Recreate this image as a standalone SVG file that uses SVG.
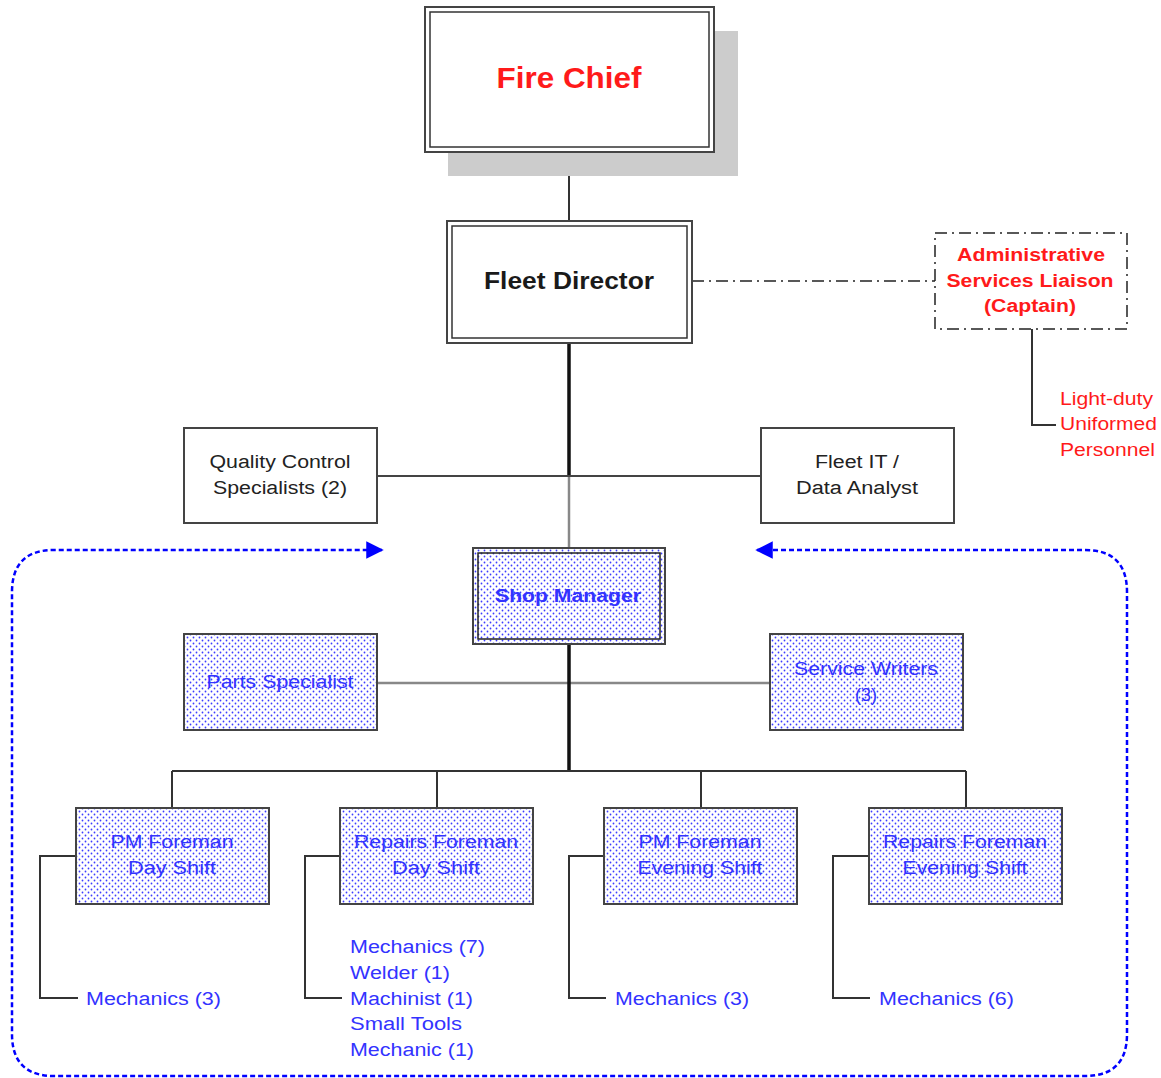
<svg xmlns="http://www.w3.org/2000/svg" width="1161" height="1078" viewBox="0 0 1161 1078">
<defs>
<pattern id="dots" width="6" height="6" patternUnits="userSpaceOnUse">
<rect width="6" height="6" fill="#ffffff"/>
<circle cx="1.5" cy="1.5" r="0.9" fill="#3c3cff"/>
<circle cx="4.5" cy="4.5" r="0.9" fill="#3c3cff"/>
</pattern>
<marker id="arr" viewBox="0 0 10 10" refX="9" refY="5" markerWidth="7" markerHeight="7" markerUnits="strokeWidth" orient="auto-start-reverse">
<path d="M0,0 L10,5 L0,10 z" fill="#0000ff"/>
</marker>
<style>
.t{font-family:"Liberation Sans",Arial,sans-serif;text-anchor:middle}
.tl{font-family:"Liberation Sans",Arial,sans-serif}
.box{fill:#ffffff;stroke:#444;stroke-width:2}
.pbox{fill:url(#dots);stroke:#444;stroke-width:2}
.dbl{fill:none;stroke:#333;stroke-width:1.5}
.blue{fill:#3333ff;font-size:18px}
.red{fill:#ff1a1a}
.blk{fill:#222;font-size:18px}
.ln{fill:none;stroke:#333;stroke-width:2}
</style>
</defs>

<g id="connectors">
<line x1="569" y1="152" x2="569" y2="221" class="ln"/>
<line x1="569" y1="343" x2="569" y2="476" stroke="#111" stroke-width="3.5"/>
<line x1="569" y1="476" x2="569" y2="548" stroke="#888" stroke-width="2.5"/>
<line x1="377" y1="476" x2="761" y2="476" stroke="#444" stroke-width="2"/>
<line x1="692" y1="281" x2="935" y2="281" stroke="#222" stroke-width="1.5" stroke-dasharray="12,5,2,5"/>
<polyline points="1032,329 1032,425 1056,425" class="ln"/>
<line x1="377" y1="683" x2="770" y2="683" stroke="#888" stroke-width="2.5"/>
<line x1="569" y1="644" x2="569" y2="771" stroke="#111" stroke-width="3.5"/>
<line x1="172" y1="771" x2="966" y2="771" stroke="#333" stroke-width="2"/>
<line x1="172" y1="771" x2="172" y2="808" class="ln"/>
<line x1="437" y1="771" x2="437" y2="808" class="ln"/>
<line x1="701" y1="771" x2="701" y2="808" class="ln"/>
<line x1="966" y1="771" x2="966" y2="808" class="ln"/>
<polyline points="76,856 40,856 40,998 78,998" class="ln"/>
<polyline points="340,856 305,856 305,998 342,998" class="ln"/>
<polyline points="604,856 569,856 569,998 606,998" class="ln"/>
<polyline points="869,856 833,856 833,998 870,998" class="ln"/>
<path d="M757,550 L1085,550 Q1127,550 1127,592 L1127,1034 Q1127,1076 1085,1076 L54,1076 Q12,1076 12,1034 L12,592 Q12,550 54,550 L382,550" fill="none" stroke="#0000ff" stroke-width="2.5" stroke-dasharray="5,3" marker-start="url(#arr)" marker-end="url(#arr)"/>
</g>

<g id="fire-chief">
<rect x="448" y="31" width="290" height="145" fill="#cccccc"/>
<rect x="425" y="7" width="289" height="145" class="box" stroke-width="2.5"/>
<rect x="430" y="12" width="279" height="135" class="dbl"/>
<text x="569" y="88" class="t red" font-size="29" font-weight="bold" textLength="145" lengthAdjust="spacingAndGlyphs">Fire Chief</text>
</g>

<g id="fleet-director">
<rect x="447" y="221" width="245" height="122" class="box" stroke-width="2.5"/>
<rect x="452" y="226" width="235" height="112" class="dbl"/>
<text x="569" y="289" class="t" fill="#1a1a1a" font-size="23" font-weight="bold" textLength="170" lengthAdjust="spacingAndGlyphs">Fleet Director</text>
</g>

<g id="admin-liaison">
<rect x="935" y="233" width="192" height="96" fill="#ffffff" stroke="#222" stroke-width="1.5" stroke-dasharray="12,5,2,5"/>
<text x="1031" y="261" class="t red" font-size="18" font-weight="bold" textLength="148" lengthAdjust="spacingAndGlyphs">Administrative</text>
<text x="1030" y="287" class="t red" font-size="18" font-weight="bold" textLength="167" lengthAdjust="spacingAndGlyphs">Services Liaison</text>
<text x="1030" y="312" class="t red" font-size="18" font-weight="bold" textLength="92" lengthAdjust="spacingAndGlyphs">(Captain)</text>
</g>

<g id="light-duty">
<text x="1060" y="405" class="tl red" font-size="18" textLength="93" lengthAdjust="spacingAndGlyphs">Light-duty</text>
<text x="1060" y="430" class="tl red" font-size="18" textLength="97" lengthAdjust="spacingAndGlyphs">Uniformed</text>
<text x="1060" y="456" class="tl red" font-size="18" textLength="95" lengthAdjust="spacingAndGlyphs">Personnel</text>
</g>

<g id="quality-control">
<rect x="184" y="428" width="193" height="95" class="box"/>
<text x="280" y="468" class="t blk" textLength="141" lengthAdjust="spacingAndGlyphs">Quality Control</text>
<text x="280" y="494" class="t blk" textLength="134" lengthAdjust="spacingAndGlyphs">Specialists (2)</text>
</g>

<g id="fleet-it">
<rect x="761" y="428" width="193" height="95" class="box"/>
<text x="857" y="468" class="t blk" textLength="84" lengthAdjust="spacingAndGlyphs">Fleet IT /</text>
<text x="857" y="494" class="t blk" textLength="122" lengthAdjust="spacingAndGlyphs">Data Analyst</text>
</g>

<g id="shop-manager">
<rect x="473" y="548" width="192" height="96" class="pbox" stroke="#555" stroke-width="3"/>
<rect x="478" y="553" width="182" height="86" fill="none" stroke="#222" stroke-width="1.5"/>
<text x="568" y="602" class="t blue" font-weight="bold" textLength="146" lengthAdjust="spacingAndGlyphs">Shop Manager</text>
</g>

<g id="parts-specialist">
<rect x="184" y="634" width="193" height="96" class="pbox"/>
<text x="280" y="688" class="t blue" textLength="147" lengthAdjust="spacingAndGlyphs">Parts Specialist</text>
</g>

<g id="service-writers">
<rect x="770" y="634" width="193" height="96" class="pbox"/>
<text x="866" y="675" class="t blue" textLength="144" lengthAdjust="spacingAndGlyphs">Service Writers</text>
<text x="866" y="701" class="t blue">(3)</text>
</g>

<g id="pm-foreman-day">
<rect x="76" y="808" width="193" height="96" class="pbox"/>
<text x="172" y="848" class="t blue" textLength="123" lengthAdjust="spacingAndGlyphs">PM Foreman</text>
<text x="172" y="874" class="t blue" textLength="88" lengthAdjust="spacingAndGlyphs">Day Shift</text>
</g>

<g id="repairs-foreman-day">
<rect x="340" y="808" width="193" height="96" class="pbox"/>
<text x="436" y="848" class="t blue" textLength="164" lengthAdjust="spacingAndGlyphs">Repairs Foreman</text>
<text x="436" y="874" class="t blue" textLength="88" lengthAdjust="spacingAndGlyphs">Day Shift</text>
</g>

<g id="pm-foreman-evening">
<rect x="604" y="808" width="193" height="96" class="pbox"/>
<text x="700" y="848" class="t blue" textLength="123" lengthAdjust="spacingAndGlyphs">PM Foreman</text>
<text x="700" y="874" class="t blue" textLength="125" lengthAdjust="spacingAndGlyphs">Evening Shift</text>
</g>

<g id="repairs-foreman-evening">
<rect x="869" y="808" width="193" height="96" class="pbox"/>
<text x="965" y="848" class="t blue" textLength="164" lengthAdjust="spacingAndGlyphs">Repairs Foreman</text>
<text x="965" y="874" class="t blue" textLength="125" lengthAdjust="spacingAndGlyphs">Evening Shift</text>
</g>

<g id="staff-pm-day">
<text x="86" y="1005" class="tl blue" textLength="135" lengthAdjust="spacingAndGlyphs">Mechanics (3)</text>
</g>
<g id="staff-repairs-day">
<text x="350" y="953" class="tl blue" textLength="135" lengthAdjust="spacingAndGlyphs">Mechanics (7)</text>
<text x="350" y="979" class="tl blue" textLength="100" lengthAdjust="spacingAndGlyphs">Welder (1)</text>
<text x="350" y="1005" class="tl blue" textLength="123" lengthAdjust="spacingAndGlyphs">Machinist (1)</text>
<text x="350" y="1030" class="tl blue" textLength="112" lengthAdjust="spacingAndGlyphs">Small Tools</text>
<text x="350" y="1056" class="tl blue" textLength="124" lengthAdjust="spacingAndGlyphs">Mechanic (1)</text>
</g>
<g id="staff-pm-evening">
<text x="615" y="1005" class="tl blue" textLength="134" lengthAdjust="spacingAndGlyphs">Mechanics (3)</text>
</g>
<g id="staff-repairs-evening">
<text x="879" y="1005" class="tl blue" textLength="135" lengthAdjust="spacingAndGlyphs">Mechanics (6)</text>
</g>
</svg>
